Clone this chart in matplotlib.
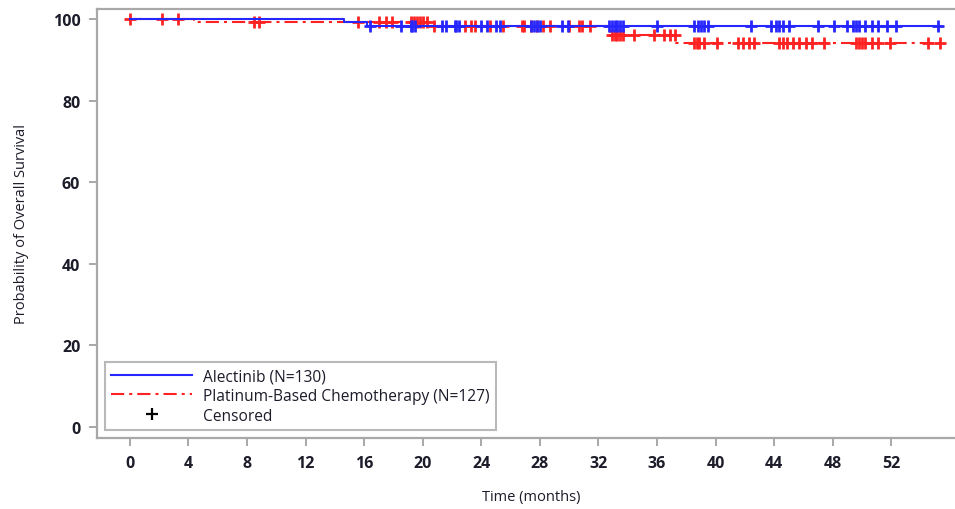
import numpy as np
import matplotlib
matplotlib.use("Agg")
import matplotlib.pyplot as plt
from matplotlib.lines import Line2D

plt.rcParams['font.family'] = ['Open Sans', 'DejaVu Sans']
plt.rcParams['lines.scale_dashes'] = False

# Kaplan-Meier step curves (time in months, survival in %)
alec_times = [0.0, 14.6, 16.2, 55.3]
alec_surv = [100.0, 99.2, 98.4, 98.4]
chemo_times = [0.0, 4.4, 20.6, 32.8, 37.3, 55.4]
chemo_surv = [100.0, 99.2, 98.3, 96.2, 94.2, 94.2]

# Censoring times
alec_cens = [16.4, 18.5, 19.2, 19.3, 19.5, 21.3, 21.6, 22.2, 22.3, 22.5,
             24.0, 24.4, 25.0, 25.3, 27.4, 27.6, 27.8, 28.0, 29.5, 29.9,
             32.7, 32.9, 33.1, 33.3, 33.5, 33.7, 36.0, 38.5, 38.8, 39.0,
             39.2, 39.5, 42.4, 43.8, 44.1, 44.3, 44.6, 45.0, 47.0, 48.1,
             49.0, 49.4, 49.6, 49.8, 50.2, 50.7, 51.1, 51.7, 52.3, 55.2]
chemo_cens = [0.0, 2.2, 3.3, 8.5, 8.8, 15.6, 17.0, 17.5, 17.9, 19.2, 19.4,
              19.6, 19.8, 20.0, 20.3, 20.8, 22.9, 23.3, 23.6, 24.6, 25.5,
              26.8, 26.9, 27.4, 27.8, 28.2, 28.7, 30.0, 30.7, 30.9, 31.4,
              32.9, 33.1, 33.3, 33.5, 33.7, 34.4, 35.8, 36.5, 36.9, 37.2,
              38.5, 38.7, 38.9, 39.2, 40.1, 41.5, 41.9, 42.3, 42.6, 44.3,
              44.6, 44.9, 45.3, 45.7, 46.2, 46.6, 47.4, 49.6, 49.8, 50.0,
              50.2, 50.7, 51.1, 51.9, 54.5, 55.3]

x_ticks = list(range(0, 53, 4))
y_ticks = [0, 20, 40, 60, 80, 100]

labels = ["Alectinib (N=130)", "Platinum-Based Chemotherapy (N=127)", "Censored"]

BLUE = "#2626ff"
RED = "#ff2222"
GRAY = "#a8a8a8"
TXT = "#1c1c2a"


def surv_at(times, surv, t):
    idx = np.searchsorted(times, t, side="right") - 1
    return np.asarray(surv)[idx]


fig = plt.figure(figsize=(9.55, 5.10), dpi=100)
ax = fig.add_axes([97 / 955, 1 - 439 / 510, 1 - 97 / 955 + 0.01, 429 / 510])

red_dash = (0, (9.5, 3.6, 2.2, 3.6))

ax.step(chemo_times, chemo_surv, where="post", color=RED, lw=1.5,
        linestyle=red_dash, zorder=2)
ax.plot(chemo_cens, surv_at(chemo_times, chemo_surv, chemo_cens), ls="none",
        marker="+", ms=8, mew=2.0, color=RED, zorder=3)
ax.step(alec_times, alec_surv, where="post", color=BLUE, lw=1.5, zorder=4)
ax.plot(alec_cens, surv_at(alec_times, alec_surv, alec_cens), ls="none",
        marker="+", ms=8, mew=2.0, color=BLUE, zorder=5)

ax.set_xlim(-2.24, 57.0)
ax.set_ylim(-2.7, 102.5)
ax.set_xticks(x_ticks)
ax.set_yticks(y_ticks)

for s in ["left", "top", "bottom"]:
    ax.spines[s].set_color(GRAY)
    ax.spines[s].set_linewidth(1.6)
ax.spines["right"].set_visible(False)

ax.tick_params(axis="both", direction="out", length=6, width=1.4, color=GRAY,
               labelsize=11.5, labelcolor=TXT, pad=6)
for lab in ax.get_xticklabels() + ax.get_yticklabels():
    lab.set_fontweight("bold")

ax.set_xlabel("Time (months)", fontsize=10.5, color=TXT, labelpad=13)
ax.set_ylabel("Probability of Overall Survival", fontsize=10.5, color=TXT,
              labelpad=17)

handles = [
    Line2D([], [], color=BLUE, lw=1.5),
    Line2D([], [], color=RED, lw=1.5, linestyle=red_dash),
    Line2D([], [], color="black", ls="none", marker="+", ms=8, mew=1.6),
]
leg = ax.legend(handles, labels, loc="lower left",
                bbox_to_anchor=(8 / 858, 8 / 429), fontsize=11.2,
                frameon=True, fancybox=False, edgecolor=GRAY,
                handlelength=5.2, handletextpad=0.7, labelspacing=0.25,
                borderpad=0.4, borderaxespad=0)
leg.get_frame().set_linewidth(1.5)
for t in leg.get_texts():
    t.set_color(TXT)

fig.savefig("out.png", dpi=100)
